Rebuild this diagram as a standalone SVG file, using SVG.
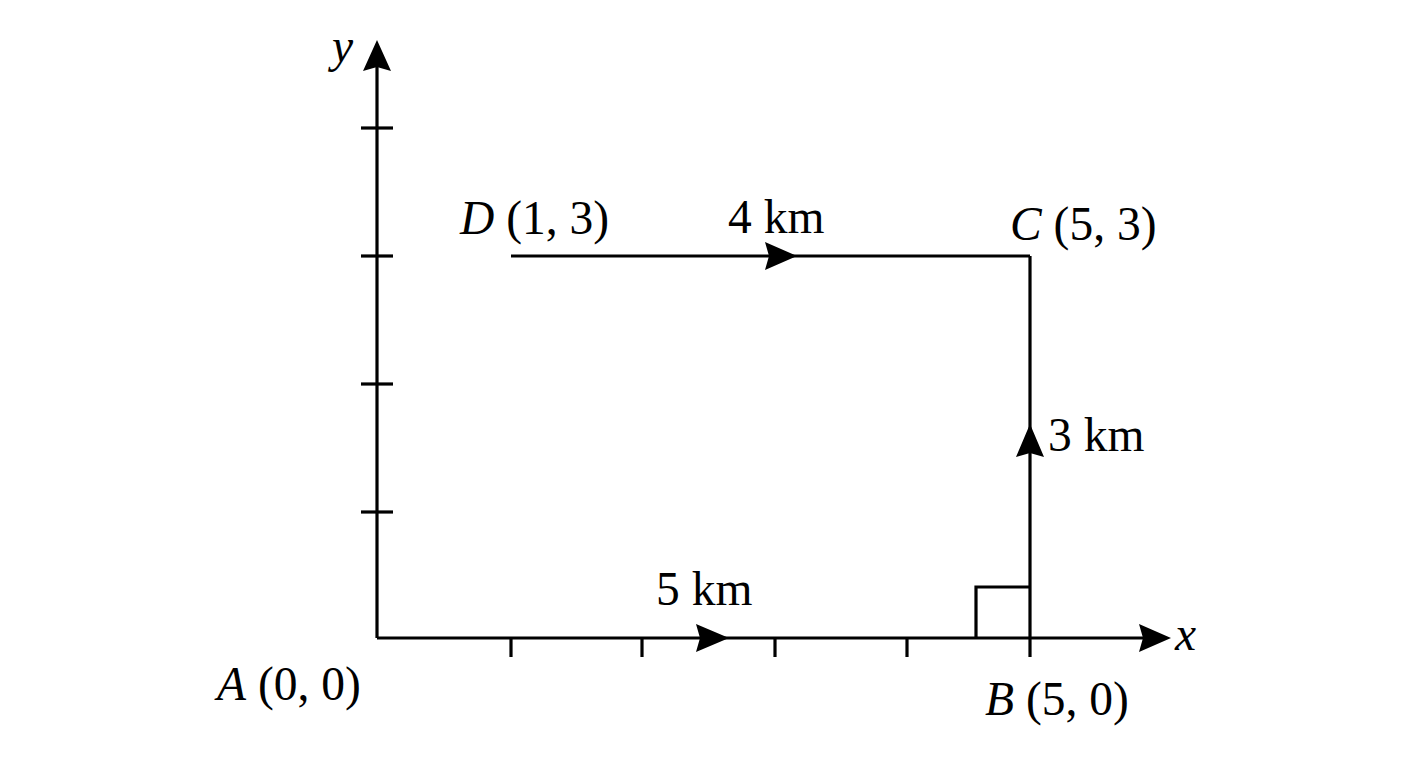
<svg xmlns="http://www.w3.org/2000/svg" width="1408" height="768" viewBox="0 0 1408 768">
<style>
.ln{stroke:#000;stroke-width:3.2;fill:none}
.ah{fill:#000;stroke:none}
text{font-family:"Liberation Serif","Times New Roman",serif;font-size:47.5px;fill:#000}
.it{font-style:italic}
</style>
<rect width="1408" height="768" fill="#fff"/>
<g id="axes">
<line class="ln" x1="377" y1="638" x2="377" y2="66"/>
<polygon class="ah" points="377,40 391,71 377,67 363,71"/>
<line class="ln" x1="377" y1="638" x2="1144" y2="638"/>
<polygon class="ah" points="1171,638 1139,652 1143,638 1139,624"/>
<text class="it" x="332" y="62">y</text>
<text class="it" x="1175" y="650">x</text>
</g>
<g id="ticks">
<line class="ln" x1="361" y1="128" x2="393" y2="128"/>
<line class="ln" x1="361" y1="256" x2="393" y2="256"/>
<line class="ln" x1="361" y1="384" x2="393" y2="384"/>
<line class="ln" x1="361" y1="512" x2="393" y2="512"/>
<line class="ln" x1="511" y1="638" x2="511" y2="657"/>
<line class="ln" x1="642" y1="638" x2="642" y2="657"/>
<line class="ln" x1="775" y1="638" x2="775" y2="657"/>
<line class="ln" x1="907" y1="638" x2="907" y2="657"/>
<line class="ln" x1="1030" y1="638" x2="1030" y2="657"/>
</g>
<g id="connectors">
<line class="ln" x1="511" y1="256" x2="1030" y2="256"/>
<polygon class="ah" points="797,256 765,242 769,256 765,270"/>
<line class="ln" x1="1030" y1="256" x2="1030" y2="638"/>
<polygon class="ah" points="1030,424 1044,457 1030,453 1016,457"/>
<polygon class="ah" points="729,638 696,624 700,638 696,652"/>
<polyline class="ln" points="976,638 976,587 1030,587"/>
</g>
<g id="node-A"><text x="217" y="700"><tspan class="it">A</tspan> (0, 0)</text></g>
<g id="node-B"><text x="985" y="715"><tspan class="it">B</tspan> (5, 0)</text></g>
<g id="node-C"><text x="1010" y="240"><tspan class="it">C</tspan> (5, 3)</text></g>
<g id="node-D"><text x="460" y="234"><tspan class="it">D</tspan> (1, 3)</text></g>
<g id="labels">
<text x="656" y="605">5 km</text>
<text x="728" y="233">4 km</text>
<text x="1048" y="451">3 km</text>
</g>
</svg>
